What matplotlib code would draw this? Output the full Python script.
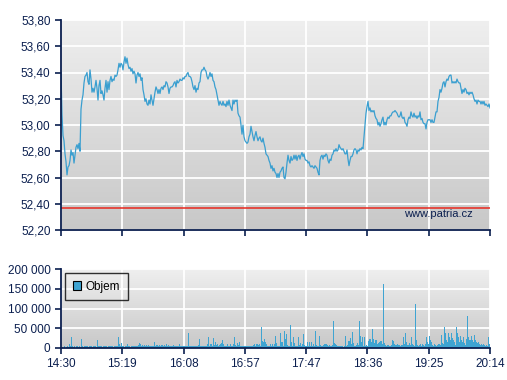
import numpy as np
import matplotlib.pyplot as plt
from matplotlib.colors import LinearSegmentedColormap
from matplotlib.patches import Patch
from matplotlib.ticker import FuncFormatter

plt.rcParams['font.family'] = ['Liberation Sans', 'DejaVu Sans']

# time axis: 14:30 -> 20:14 (344 minutes)
tick_labels = ['14:30', '15:19', '16:08', '16:57', '17:47', '18:36', '19:25', '20:14']
session_minutes = 344

price = [
    53.40, 53.08, 52.92, 52.88, 52.78, 52.72, 52.62, 52.68, 52.69, 52.73, 52.81, 52.77, 52.79, 52.71, 52.77, 52.83, 52.85, 52.82, 52.86, 52.80,
    53.12, 53.19, 53.23, 53.32, 53.37, 53.38, 53.40, 53.33, 53.31, 53.42, 53.35, 53.25, 53.28, 53.25, 53.29, 53.34, 53.28, 53.19, 53.30, 53.34,
    53.24, 53.26, 53.23, 53.19, 53.28, 53.34, 53.25, 53.33, 53.27, 53.34, 53.37, 53.33, 53.35, 53.34, 53.38, 53.37, 53.38, 53.42, 53.47, 53.44,
    53.47, 53.46, 53.42, 53.48, 53.52, 53.47, 53.51, 53.46, 53.43, 53.44, 53.41, 53.43, 53.39, 53.41, 53.39, 53.32, 53.38, 53.40, 53.37, 53.39,
    53.34, 53.36, 53.27, 53.23, 53.18, 53.20, 53.16, 53.15, 53.19, 53.16, 53.23, 53.19, 53.15, 53.20, 53.25, 53.29, 53.27, 53.24, 53.27, 53.24,
    53.28, 53.29, 53.27, 53.30, 53.29, 53.33, 53.32, 53.29, 53.24, 53.28, 53.29, 53.29, 53.30, 53.32, 53.33, 53.29, 53.34, 53.32, 53.33, 53.35,
    53.34, 53.34, 53.36, 53.35, 53.37, 53.37, 53.39, 53.40, 53.37, 53.37, 53.36, 53.33, 53.29, 53.27, 53.30, 53.25, 53.28, 53.27, 53.32, 53.33,
    53.40, 53.42, 53.42, 53.44, 53.42, 53.41, 53.37, 53.35, 53.37, 53.40, 53.37, 53.39, 53.34, 53.33, 53.29, 53.27, 53.23, 53.19, 53.15, 53.18,
    53.16, 53.15, 53.18, 53.15, 53.16, 53.14, 53.18, 53.15, 53.19, 53.15, 53.13, 53.11, 53.19, 53.16, 53.19, 53.18, 53.19, 53.09, 53.07, 53.06,
    53.00, 52.93, 53.00, 52.91, 52.88, 52.87, 52.86, 52.87, 52.91, 52.93, 52.99, 52.95, 52.91, 52.88, 52.92, 52.95, 52.91, 52.88, 52.90, 52.91,
    52.88, 52.87, 52.90, 52.86, 52.83, 52.78, 52.77, 52.76, 52.73, 52.71, 52.67, 52.69, 52.65, 52.67, 52.64, 52.63, 52.60, 52.63, 52.60, 52.64,
    52.65, 52.67, 52.68, 52.60, 52.59, 52.64, 52.71, 52.77, 52.73, 52.71, 52.76, 52.73, 52.74, 52.77, 52.74, 52.77, 52.73, 52.76, 52.77, 52.74,
    52.77, 52.79, 52.76, 52.78, 52.74, 52.73, 52.73, 52.71, 52.72, 52.69, 52.68, 52.69, 52.68, 52.67, 52.69, 52.68, 52.67, 52.64, 52.62, 52.73,
    52.76, 52.77, 52.74, 52.77, 52.76, 52.78, 52.77, 52.73, 52.71, 52.74, 52.73, 52.77, 52.78, 52.81, 52.80, 52.82, 52.80, 52.81, 52.85, 52.83,
    52.82, 52.81, 52.82, 52.80, 52.78, 52.78, 52.81, 52.74, 52.69, 52.73, 52.76, 52.76, 52.78, 52.81, 52.82, 52.81, 52.78, 52.81, 52.80, 52.82,
    52.81, 52.83, 52.82, 52.91, 52.99, 53.09, 53.14, 53.18, 53.11, 53.13, 53.10, 53.11, 53.10, 53.11, 53.07, 53.05, 53.04, 53.00, 53.02, 52.99,
    53.01, 53.04, 53.06, 53.00, 53.02, 53.00, 53.04, 53.06, 53.05, 53.07, 53.07, 53.09, 53.10, 53.10, 53.11, 53.10, 53.09, 53.07, 53.06, 53.07,
    53.10, 53.06, 53.05, 53.06, 53.02, 53.01, 52.99, 53.04, 53.06, 53.05, 53.10, 53.07, 53.06, 53.09, 53.06, 53.07, 53.05, 53.07, 53.06, 53.10,
    53.04, 53.05, 53.02, 53.01, 53.01, 52.97, 53.02, 53.04, 53.04, 53.04, 53.02, 53.04, 53.02, 53.02, 53.06, 53.10, 53.10, 53.18, 53.21, 53.27,
    53.25, 53.28, 53.32, 53.33, 53.29, 53.33, 53.35, 53.34, 53.37, 53.38, 53.38, 53.32, 53.33, 53.32, 53.33, 53.32, 53.35, 53.33, 53.32, 53.32,
    53.28, 53.24, 53.27, 53.25, 53.28, 53.27, 53.24, 53.25, 53.23, 53.25, 53.24, 53.25, 53.23, 53.20, 53.18, 53.19, 53.16, 53.19, 53.18, 53.18,
    53.16, 53.18, 53.16, 53.18, 53.15, 53.16, 53.15, 53.14, 53.16, 53.13,
]

volume = [
    0, 2000, 0, 5000, 0, 3000, 6000, 3000, 9000, 5000, 28000, 4000, 3000, 5000, 0, 4000, 5000, 2000, 4000, 3000,
    24000, 5000, 3000, 4000, 5000, 4000, 5000, 3000, 5000, 4000, 5000, 3000, 4000, 5000, 4000, 3000, 21000, 4000, 5000, 4000,
    5000, 3000, 4000, 5000, 4000, 5000, 3000, 4000, 5000, 4000, 5000, 4000, 3000, 5000, 6000, 5000, 4000, 29000, 9000, 5000,
    13000, 5000, 4000, 3000, 4000, 5000, 9000, 4000, 5000, 3000, 4000, 5000, 4000, 5000, 6000, 5000, 6000, 8000, 13000, 10000,
    6000, 8000, 5000, 8000, 6000, 7000, 6000, 7000, 6000, 5000, 6000, 5000, 6000, 15000, 6000, 8000, 7000, 6000, 8000, 6000,
    8000, 7000, 5000, 8000, 6000, 9000, 6000, 7000, 5000, 6000, 5000, 4000, 8000, 5000, 4000, 5000, 4000, 6000, 9000, 5000,
    4000, 6000, 5000, 4000, 5000, 4000, 6000, 38000, 5000, 4000, 6000, 4000, 5000, 4000, 5000, 4000, 5000, 8000, 23000, 6000,
    5000, 4000, 5000, 4000, 6000, 5000, 9000, 28000, 6000, 9000, 9000, 6000, 25000, 8000, 15000, 7000, 11000, 6000, 8000, 9000,
    12000, 20000, 9000, 6000, 5000, 4000, 9000, 5000, 4000, 9000, 5000, 5000, 9000, 28000, 8000, 6000, 13000, 7000, 15000, 5000,
    4000, 5000, 4000, 5000, 4000, 6000, 5000, 4000, 5000, 4000, 5000, 6000, 7000, 9000, 6000, 9000, 11000, 7000, 9000, 5000,
    52000, 18000, 14000, 23000, 15000, 11000, 6000, 5000, 4000, 9000, 5000, 9000, 6000, 10000, 30000, 13000, 6000, 5000, 4000, 37000,
    14000, 15000, 6000, 43000, 24000, 35000, 8000, 5000, 4000, 58000, 15000, 6000, 28000, 13000, 5000, 4000, 6000, 29000, 8000, 13000,
    6000, 10000, 36000, 8000, 5000, 4000, 15000, 5000, 15000, 5000, 15000, 6000, 9000, 5000, 44000, 8000, 5000, 6000, 30000, 8000,
    5000, 4000, 7000, 9000, 11000, 10000, 7000, 6000, 8000, 5000, 6000, 7000, 69000, 12000, 9000, 7000, 5000, 6000, 4000, 5000,
    4000, 6000, 3000, 4000, 30000, 6000, 7000, 18000, 18000, 26000, 9000, 41000, 13000, 6000, 5000, 8000, 13000, 7000, 69000, 30000,
    15000, 28000, 5000, 28000, 6000, 8000, 5000, 17000, 24000, 24000, 15000, 48000, 22000, 13000, 19000, 19000, 11000, 12000, 14000, 17000,
    18000, 9000, 163000, 13000, 8000, 5000, 7000, 8000, 5000, 6000, 7000, 20000, 18000, 9000, 8000, 7000, 10000, 8000, 7000, 5000,
    8000, 7000, 27000, 10000, 37000, 15000, 8000, 7000, 12000, 8000, 27000, 9000, 7000, 5000, 112000, 19000, 8000, 5000, 7000, 9000,
    5000, 10000, 7000, 5000, 9000, 27000, 16000, 11000, 30000, 20000, 15000, 8000, 6000, 10000, 8000, 5000, 7000, 9000, 10000, 8000,
    33000, 12000, 10000, 52000, 39000, 20000, 15000, 39000, 27000, 20000, 39000, 25000, 20000, 16000, 8000, 52000, 39000, 27000, 15000, 30000,
    20000, 14000, 27000, 12000, 8000, 24000, 81000, 27000, 20000, 20000, 30000, 20000, 15000, 33000, 20000, 14000, 12000, 16000, 10000, 8000,
    10000, 8000, 10000, 7000, 6000, 8000, 5000, 27000, 10000, 6000,
]

reference_price = 52.37

navy = '#0b1f4f'
line_blue = '#3a9fd0'
bar_blue = '#3fa4d2'

t = np.linspace(0, session_minutes, len(price))
xticks = np.linspace(0, session_minutes, len(tick_labels))

bg = LinearSegmentedColormap.from_list('bg', ['#efefef', '#c8c8c8'])
grad = np.linspace(0, 1, 256).reshape(-1, 1)


def style_axes(ax):
    ax.imshow(grad, cmap=bg, aspect='auto', extent=[0, 1, 0, 1],
              transform=ax.transAxes, zorder=0)
    ax.grid(True, color='white', lw=1.3, zorder=1)
    for s in ['top', 'right']:
        ax.spines[s].set_visible(False)
    for s in ['left', 'bottom']:
        ax.spines[s].set_color(navy)
        ax.spines[s].set_linewidth(1.3)
        ax.spines[s].set_zorder(5)
    ax.tick_params(colors=navy, labelcolor=navy, labelsize=8.5,
                   direction='out', length=4, width=1.2)


fig = plt.figure(figsize=(5.07, 3.80), dpi=100)

ax1 = fig.add_axes([61 / 507, 1 - 230 / 380, 429 / 507, 210 / 380])
style_axes(ax1)
ax1.axhline(reference_price, color='#e8281e', lw=1.1, zorder=3)
ax1.plot(t, price, color=line_blue, lw=0.9, zorder=4)
ax1.set_xlim(0, session_minutes)
ax1.set_xticks(xticks)
ax1.set_xticklabels([])
ax1.set_ylim(52.2, 53.8)
ax1.set_yticks(np.arange(52.2, 53.81, 0.2))
ax1.yaxis.set_major_formatter(FuncFormatter(lambda v, p: f'{v:.2f}'.replace('.', ',')))
ax1.text(0.96, 0.075, 'www.patria.cz', transform=ax1.transAxes, ha='right',
         va='center', color=navy, fontsize=8, zorder=6)

ax2 = fig.add_axes([61 / 507, 1 - 348 / 380, 429 / 507, 79 / 380])
style_axes(ax2)
ax2.vlines(t, 0, volume, color=bar_blue, lw=0.72, zorder=4, antialiased=False)
ax2.set_xlim(0, session_minutes)
ax2.set_xticks(xticks)
ax2.set_xticklabels(tick_labels)
ax2.set_ylim(0, 200000)
ax2.set_yticks([0, 50000, 100000, 150000, 200000])
ax2.yaxis.set_major_formatter(FuncFormatter(lambda v, p: f'{int(v):,}'.replace(',', ' ')))

handle = Patch(facecolor=bar_blue, edgecolor='black', linewidth=0.8, label='Objem')
leg = ax2.legend(handles=[handle], loc='upper left', bbox_to_anchor=(0.009, 0.95),
                 borderaxespad=0, fontsize=8.5, frameon=True, fancybox=False,
                 handlelength=0.75, handleheight=0.75, borderpad=0.65,
                 handletextpad=0.35)
leg.get_frame().set_edgecolor('black')
leg.get_frame().set_facecolor('none')
leg.get_frame().set_linewidth(1)
leg.set_zorder(6)

fig.savefig('out.png', dpi=100)
